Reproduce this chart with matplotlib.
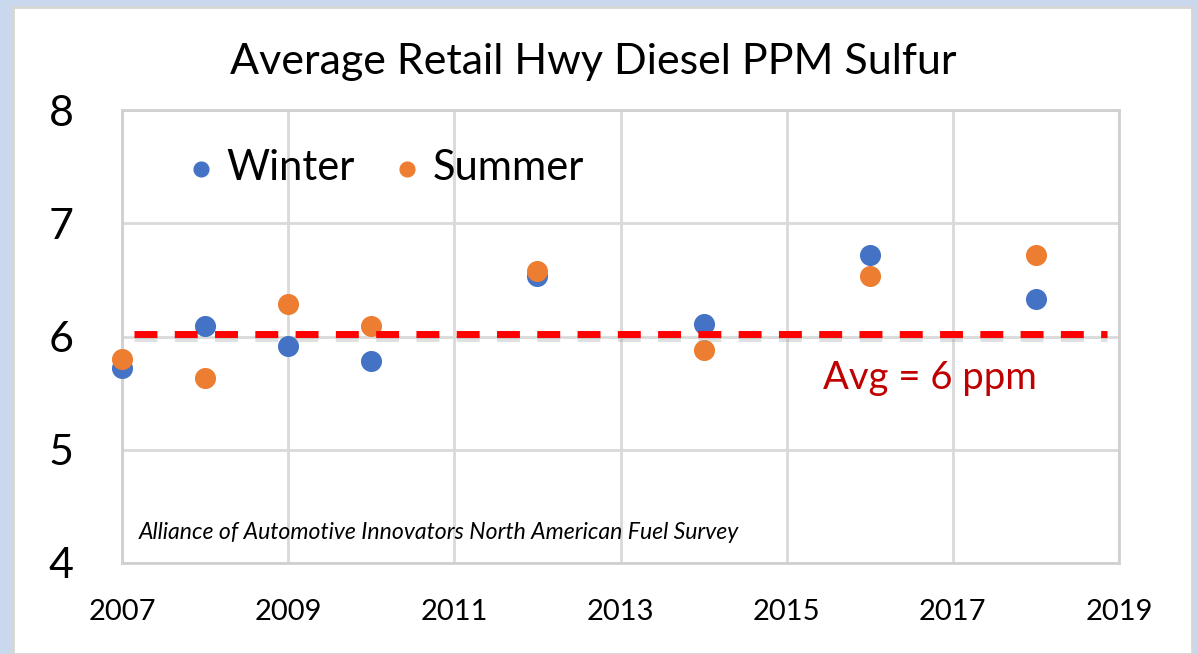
import numpy as np
import matplotlib.pyplot as plt
import matplotlib.patheffects as pe
from matplotlib.patches import Rectangle

# data
years_winter = [2007, 2008, 2009, 2010, 2012, 2014, 2016, 2018]
winter = [5.72, 6.09, 5.92, 5.78, 6.53, 6.11, 6.72, 6.33]
years_summer = [2007, 2008, 2009, 2010, 2012, 2014, 2016, 2018]
summer = [5.80, 5.63, 6.29, 6.09, 6.58, 5.88, 6.53, 6.72]
avg_value = 6.02
avg_span = [2007.15, 2018.85]
x_ticks = [2007, 2009, 2011, 2013, 2015, 2017, 2019]
y_ticks = [4, 5, 6, 7, 8]

plt.rcParams['font.family'] = ['Lato', 'DejaVu Sans']

fig = plt.figure(figsize=(11.97, 6.54), dpi=100)
fig.patch.set_facecolor('#c9d8ec')

# white slide panel with a faint border
panel = Rectangle((13 / 1197, 0), (1192 - 13) / 1197, (654 - 7) / 654,
                  transform=fig.transFigure, facecolor='white',
                  edgecolor='#d6d6d6', linewidth=2, zorder=-10)
fig.patches.append(panel)

ax = fig.add_axes([122 / 1197, (654 - 563) / 654,
                   (1119 - 122) / 1197, (563 - 110) / 654])
ax.set_facecolor('none')
ax.set_xlim(2007, 2019)
ax.set_ylim(4, 8)
ax.set_xticks(x_ticks)
ax.set_yticks(y_ticks)
ax.grid(True, color='#d9d9d9', linewidth=2)
ax.set_axisbelow(True)
for s in ax.spines.values():
    s.set_color('#d0d0d0')
    s.set_linewidth(2)
ax.tick_params(length=0)
ax.tick_params(axis='x', labelsize=21, pad=26)
ax.tick_params(axis='y', labelsize=31, pad=35)

ax.scatter(years_winter, winter, s=200, color='#4472c4', zorder=3,
           label='Winter', clip_on=False)
ax.scatter(years_summer, summer, s=200, color='#ed7d31', zorder=3,
           label='Summer', clip_on=False)

ax.plot(avg_span, [avg_value, avg_value], color='#ff0000', linewidth=5,
        dashes=(3.3, 2.5), zorder=4,
        path_effects=[pe.SimpleLineShadow(offset=(0, -3), shadow_color='#999999', alpha=0.3),
                      pe.Normal()])

ax.text(2016.73, 5.63, 'Avg = 6 ppm', color='#c00000', fontsize=27.5,
        ha='center', va='center')
ax.text(2007.2, 4.27, 'Alliance of Automotive Innovators North American Fuel Survey',
        fontsize=16.6, style='italic', ha='left', va='center')

leg = ax.legend(loc='upper left', bbox_to_anchor=(0.0, 0.997), ncol=2,
                frameon=False, fontsize=30, handletextpad=-0.4,
                columnspacing=0.27, markerscale=0.75)

fig.text(593 / 1197, 1 - 62 / 654, 'Average Retail Hwy Diesel PPM Sulfur',
         fontsize=31, ha='center', va='center')

fig.savefig('out.png', dpi=100, facecolor=fig.get_facecolor())
